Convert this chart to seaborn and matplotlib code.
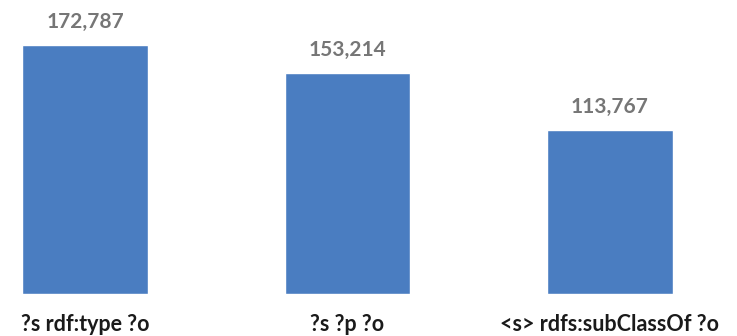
import matplotlib
matplotlib.use("Agg")
import matplotlib.pyplot as plt
import seaborn as sns
import pandas as pd

categories = ["?s rdf:type ?o", "?s ?p ?o", "<s> rdfs:subClassOf ?o"]
values = [172787, 153214, 113767]
value_labels = ["172,787", "153,214", "113,767"]

sns.set_theme(style="white")
plt.rcParams["font.family"] = ["Lato", "DejaVu Sans"]

df = pd.DataFrame({"cat": categories, "val": values})

fig = plt.figure(figsize=(7.37, 3.36), dpi=100)
ax = fig.add_axes([0, 0.125, 1, 0.875])
sns.barplot(data=df, x="cat", y="val", color="#4A7DC1", saturation=1,
            width=0.48, ax=ax)
ax.set_xlim(-0.324, 2.484)
ax.set_ylim(0, 204016)
for s in ax.spines.values():
    s.set_visible(False)
ax.set_yticks([])
ax.set_xlabel("")
ax.set_ylabel("")
ax.tick_params(axis="x", length=0, pad=14.5)
for lab in ax.get_xticklabels():
    lab.set_fontsize(15.5)
    lab.set_fontweight("bold")
    lab.set_color("#1a1a1a")

for i, (v, t) in enumerate(zip(values, value_labels)):
    ax.annotate(t, (i, v), xytext=(0, 16.5), textcoords="offset points",
                ha="center", va="center", fontsize=15, fontweight="bold",
                color="#767676")

fig.savefig("out.png", dpi=100)
